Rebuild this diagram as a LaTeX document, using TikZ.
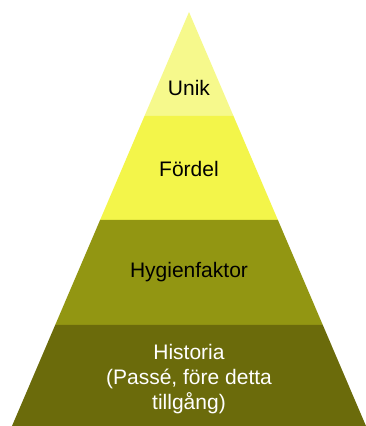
\documentclass[tikz,border=0pt]{standalone}
\usepackage{fontspec}
\setmainfont{Liberation Sans}
\definecolor{lvlA}{HTML}{F6F98C}
\definecolor{lvlB}{HTML}{F3F54A}
\definecolor{lvlC}{HTML}{929612}
\definecolor{lvlD}{HTML}{6B6B0B}
\begin{document}
\begin{tikzpicture}[x=1pt,y=1pt,
  lbl/.style={font=\fontsize{21}{25}\selectfont, align=center, inner sep=0pt}]
\useasboundingbox (0,0) rectangle (366,426);
% apex and layer edges (left/right points of each boundary)
\coordinate (top) at (189,414);
\coordinate (l1) at (144.5,310); \coordinate (r1) at (233.5,310);
\coordinate (l2) at (100.1,206); \coordinate (r2) at (277.9,206);
\coordinate (l3) at (55.2,101);  \coordinate (r3) at (322.8,101);
\coordinate (l4) at (12,0);      \coordinate (r4) at (366,0);
% layers
\fill[lvlA] (top) -- (r1) -- (l1) -- cycle;
\fill[lvlB] (l1) -- (r1) -- (r2) -- (l2) -- cycle;
\fill[lvlC] (l2) -- (r2) -- (r3) -- (l3) -- cycle;
\fill[lvlD] (l3) -- (r3) -- (r4) -- (l4) -- cycle;
% labels
\node[lbl] (unik) at (189,338) {Unik};
\node[lbl] (fordel) at (189,257) {Fördel};
\node[lbl] (hyg) at (189,154) {Hygienfaktor};
\node[lbl, text=white] (hist) at (189,47) {Historia\\(Passé, före detta\\tillgång)};
\end{tikzpicture}
\end{document}
